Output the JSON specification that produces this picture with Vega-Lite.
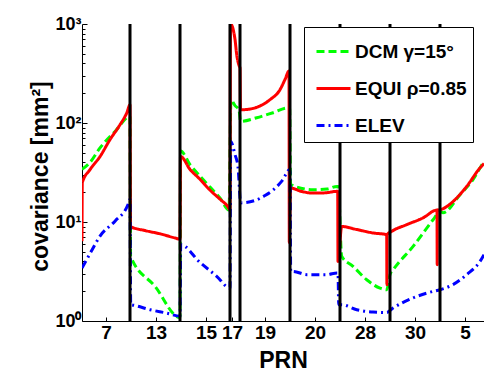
{
  "$schema": "https://vega.github.io/schema/vega-lite/v6.json",
  "width": 402,
  "height": 297,
  "autosize": {"type": "none"},
  "padding": {"left": 82, "top": 24, "right": 0, "bottom": 51},
  "background": "white",
  "config": {"view": {"stroke": null}, "font": "Liberation Sans"},
  "datasets": {
    "series": [
      {"s": "DCM γ=15°", "t": 0, "v": 34}, {"s": "DCM γ=15°", "t": 8, "v": 40}, {"s": "DCM γ=15°", "t": 18, "v": 56}, {"s": "DCM γ=15°", "t": 33, "v": 82}, {"s": "DCM γ=15°", "t": 48, "v": 116},
      {"s": "DCM γ=15°", "t": 48.6, "v": 4.5}, {"s": "DCM γ=15°", "t": 73, "v": 2.24}, {"s": "DCM γ=15°", "t": 98, "v": 1.08},
      {"s": "DCM γ=15°", "t": 98.6, "v": 52}, {"s": "DCM γ=15°", "t": 108, "v": 38}, {"s": "DCM γ=15°", "t": 118, "v": 29}, {"s": "DCM γ=15°", "t": 128, "v": 22.5}, {"s": "DCM γ=15°", "t": 138, "v": 17.5}, {"s": "DCM γ=15°", "t": 147, "v": 13.2},
      {"s": "DCM γ=15°", "t": 149, "v": 170}, {"s": "DCM γ=15°", "t": 153, "v": 150}, {"s": "DCM γ=15°", "t": 157, "v": 135},
      {"s": "DCM γ=15°", "t": 158.6, "v": 104}, {"s": "DCM γ=15°", "t": 174.7, "v": 113}, {"s": "DCM γ=15°", "t": 191, "v": 127}, {"s": "DCM γ=15°", "t": 206, "v": 142}, {"s": "DCM γ=15°", "t": 207.6, "v": 142},
      {"s": "DCM γ=15°", "t": 208.6, "v": 23.9}, {"s": "DCM γ=15°", "t": 231, "v": 21.2}, {"s": "DCM γ=15°", "t": 245, "v": 21.5}, {"s": "DCM γ=15°", "t": 255, "v": 22.9}, {"s": "DCM γ=15°", "t": 256.2, "v": 22.9},
      {"s": "DCM γ=15°", "t": 259.7, "v": 4.5}, {"s": "DCM γ=15°", "t": 271, "v": 3.57}, {"s": "DCM γ=15°", "t": 284.7, "v": 2.61}, {"s": "DCM γ=15°", "t": 298, "v": 2.15}, {"s": "DCM γ=15°", "t": 304.7, "v": 2.07},
      {"s": "DCM γ=15°", "t": 308, "v": 2.94}, {"s": "DCM γ=15°", "t": 311.3, "v": 3.3}, {"s": "DCM γ=15°", "t": 331.3, "v": 5.7}, {"s": "DCM γ=15°", "t": 351.3, "v": 10.6}, {"s": "DCM γ=15°", "t": 358, "v": 12.8},
      {"s": "DCM γ=15°", "t": 361, "v": 12.4}, {"s": "DCM γ=15°", "t": 378, "v": 18.9}, {"s": "DCM γ=15°", "t": 391, "v": 26.8}, {"s": "DCM γ=15°", "t": 401, "v": 39.5}, {"s": "DCM γ=15°", "t": 402, "v": 41},

      {"s": "EQUI ρ=0.85", "t": 0, "v": 6.4}, {"s": "EQUI ρ=0.85", "t": 0.3, "v": 25}, {"s": "EQUI ρ=0.85", "t": 8, "v": 33.8}, {"s": "EQUI ρ=0.85", "t": 18, "v": 45.8}, {"s": "EQUI ρ=0.85", "t": 28, "v": 68}, {"s": "EQUI ρ=0.85", "t": 38, "v": 96}, {"s": "EQUI ρ=0.85", "t": 45, "v": 128}, {"s": "EQUI ρ=0.85", "t": 48, "v": 153},
      {"s": "EQUI ρ=0.85", "t": 48.5, "v": 9.0}, {"s": "EQUI ρ=0.85", "t": 63, "v": 8.2}, {"s": "EQUI ρ=0.85", "t": 78, "v": 7.6}, {"s": "EQUI ρ=0.85", "t": 93, "v": 6.9}, {"s": "EQUI ρ=0.85", "t": 98, "v": 6.7},
      {"s": "EQUI ρ=0.85", "t": 98.5, "v": 46}, {"s": "EQUI ρ=0.85", "t": 108, "v": 34}, {"s": "EQUI ρ=0.85", "t": 118, "v": 27}, {"s": "EQUI ρ=0.85", "t": 128, "v": 21}, {"s": "EQUI ρ=0.85", "t": 138, "v": 17}, {"s": "EQUI ρ=0.85", "t": 146, "v": 14.2}, {"s": "EQUI ρ=0.85", "t": 148, "v": 13.2},
      {"s": "EQUI ρ=0.85", "t": 148.5, "v": 1000}, {"s": "EQUI ρ=0.85", "t": 153, "v": 700}, {"s": "EQUI ρ=0.85", "t": 154.7, "v": 490}, {"s": "EQUI ρ=0.85", "t": 157.3, "v": 375}, {"s": "EQUI ρ=0.85", "t": 158, "v": 360},
      {"s": "EQUI ρ=0.85", "t": 158.5, "v": 136}, {"s": "EQUI ρ=0.85", "t": 165, "v": 137}, {"s": "EQUI ρ=0.85", "t": 174.7, "v": 144}, {"s": "EQUI ρ=0.85", "t": 188, "v": 172}, {"s": "EQUI ρ=0.85", "t": 198, "v": 217}, {"s": "EQUI ρ=0.85", "t": 203, "v": 275}, {"s": "EQUI ρ=0.85", "t": 207, "v": 335},
      {"s": "EQUI ρ=0.85", "t": 207.3, "v": 6.2}, {"s": "EQUI ρ=0.85", "t": 208.5, "v": 22}, {"s": "EQUI ρ=0.85", "t": 220, "v": 20.3}, {"s": "EQUI ρ=0.85", "t": 231, "v": 19.6}, {"s": "EQUI ρ=0.85", "t": 243, "v": 19.7}, {"s": "EQUI ρ=0.85", "t": 255, "v": 20.4}, {"s": "EQUI ρ=0.85", "t": 255.7, "v": 20.4},
      {"s": "EQUI ρ=0.85", "t": 256, "v": 4.0}, {"s": "EQUI ρ=0.85", "t": 259.7, "v": 9.0}, {"s": "EQUI ρ=0.85", "t": 274.7, "v": 8.4}, {"s": "EQUI ρ=0.85", "t": 291, "v": 7.75}, {"s": "EQUI ρ=0.85", "t": 304.7, "v": 7.45},
      {"s": "EQUI ρ=0.85", "t": 304.9, "v": 2.33}, {"s": "EQUI ρ=0.85", "t": 305.1, "v": 7.45}, {"s": "EQUI ρ=0.85", "t": 309.7, "v": 8.05}, {"s": "EQUI ρ=0.85", "t": 324.7, "v": 9.4}, {"s": "EQUI ρ=0.85", "t": 341, "v": 11}, {"s": "EQUI ρ=0.85", "t": 355, "v": 13.2},
      {"s": "EQUI ρ=0.85", "t": 355.2, "v": 3.7}, {"s": "EQUI ρ=0.85", "t": 355.4, "v": 13.2}, {"s": "EQUI ρ=0.85", "t": 358, "v": 13.3}, {"s": "EQUI ρ=0.85", "t": 371.3, "v": 16.2}, {"s": "EQUI ρ=0.85", "t": 384.7, "v": 22.9}, {"s": "EQUI ρ=0.85", "t": 398, "v": 35.2}, {"s": "EQUI ρ=0.85", "t": 402, "v": 39},

      {"s": "ELEV", "t": 0, "v": 3.43}, {"s": "ELEV", "t": 9, "v": 5.0}, {"s": "ELEV", "t": 18, "v": 7.2}, {"s": "ELEV", "t": 33, "v": 10.2}, {"s": "ELEV", "t": 46, "v": 15}, {"s": "ELEV", "t": 48, "v": 17},
      {"s": "ELEV", "t": 48.7, "v": 1.46}, {"s": "ELEV", "t": 52, "v": 1.44}, {"s": "ELEV", "t": 68, "v": 1.3}, {"s": "ELEV", "t": 85, "v": 1.2}, {"s": "ELEV", "t": 98, "v": 1.12},
      {"s": "ELEV", "t": 98.7, "v": 5.9}, {"s": "ELEV", "t": 118, "v": 3.9}, {"s": "ELEV", "t": 134.7, "v": 2.83}, {"s": "ELEV", "t": 148, "v": 2.15},
      {"s": "ELEV", "t": 148.7, "v": 65}, {"s": "ELEV", "t": 153, "v": 48}, {"s": "ELEV", "t": 156, "v": 36},
      {"s": "ELEV", "t": 158.7, "v": 15.6}, {"s": "ELEV", "t": 173, "v": 16.5}, {"s": "ELEV", "t": 183, "v": 18.5}, {"s": "ELEV", "t": 191, "v": 21}, {"s": "ELEV", "t": 200, "v": 26}, {"s": "ELEV", "t": 208, "v": 34},
      {"s": "ELEV", "t": 208.7, "v": 3.17}, {"s": "ELEV", "t": 211, "v": 3.17}, {"s": "ELEV", "t": 225, "v": 2.94}, {"s": "ELEV", "t": 245, "v": 2.94}, {"s": "ELEV", "t": 255, "v": 3.06}, {"s": "ELEV", "t": 256, "v": 3.06},
      {"s": "ELEV", "t": 256.7, "v": 1.46}, {"s": "ELEV", "t": 259.7, "v": 1.46}, {"s": "ELEV", "t": 274.7, "v": 1.3}, {"s": "ELEV", "t": 291, "v": 1.23}, {"s": "ELEV", "t": 304.7, "v": 1.22},
      {"s": "ELEV", "t": 311, "v": 1.35}, {"s": "ELEV", "t": 331, "v": 1.71}, {"s": "ELEV", "t": 351, "v": 1.99}, {"s": "ELEV", "t": 358, "v": 2.07},
      {"s": "ELEV", "t": 371, "v": 2.33}, {"s": "ELEV", "t": 384.7, "v": 2.94}, {"s": "ELEV", "t": 398, "v": 4.0}, {"s": "ELEV", "t": 402, "v": 4.68}
    ],
    "bounds": [{"t": 48}, {"t": 98}, {"t": 148}, {"t": 158}, {"t": 208}, {"t": 258}, {"t": 308}, {"t": 358}]
  },
  "layer": [
    {
      "data": {"name": "series"},
      "mark": {"type": "line", "strokeWidth": 3, "clip": true, "interpolate": "monotone"},
      "encoding": {
        "x": {
          "field": "t", "type": "quantitative",
          "scale": {"domain": [0, 402], "nice": false, "zero": false},
          "axis": {
            "title": "PRN",
            "values": [24, 74, 124, 150, 183, 233, 283, 333, 383],
            "labelExpr": "['7','13','15','17','19','20','28','30','5'][indexof([24,74,124,150,183,233,283,333,383], datum.value)]",
            "labelOverlap": false,
            "grid": false,
            "tickSize": -4,
            "tickColor": "black",
            "domainColor": "black",
            "labelColor": "black",
            "titleColor": "black",
            "labelFont": "Liberation Sans",
            "titleFont": "Liberation Sans",
            "labelFontSize": 19,
            "labelFontWeight": "bold",
            "titleFontSize": 23,
            "titleFontWeight": "bold",
            "labelPadding": 6,
            "titlePadding": 7
          }
        },
        "y": {
          "field": "v", "type": "quantitative",
          "scale": {"type": "log", "domain": [1, 1000]},
          "axis": {
            "title": "covariance [mm²]",
            "titleY": 152,
            "values": [1, 2, 3, 4, 5, 6, 7, 8, 9, 10, 20, 30, 40, 50, 60, 70, 80, 90, 100, 200, 300, 400, 500, 600, 700, 800, 900, 1000],
            "labelExpr": "datum.value == 1 ? '10⁰' : datum.value == 10 ? '10¹' : datum.value == 100 ? '10²' : datum.value == 1000 ? '10³' : ''",
            "labelOverlap": false,
            "grid": false,
            "tickSize": {"condition": {"test": "indexof([1,10,100,1000], datum.value) >= 0", "value": -5}, "value": -3},
            "tickColor": "black",
            "domainColor": "black",
            "labelColor": "black",
            "titleColor": "black",
            "labelFont": "Liberation Sans",
            "titleFont": "Liberation Sans",
            "labelFontSize": 18,
            "labelFontWeight": "bold",
            "titleFontSize": 23,
            "titleFontWeight": "bold",
            "labelPadding": 6,
            "titlePadding": 2
          }
        },
        "color": {
          "field": "s", "type": "nominal",
          "scale": {"domain": ["DCM γ=15°", "EQUI ρ=0.85", "ELEV"], "range": ["#00ff00", "#ff0000", "#0000ff"]},
          "legend": {"title": null, "orient": "none", "legendX": 222, "legendY": 3, "fillColor": "white", "strokeColor": "black", "padding": 6, "symbolType": "stroke", "symbolSize": 1156, "symbolStrokeWidth": 3, "labelFont": "Liberation Sans", "labelFontSize": 19, "labelFontWeight": "bold", "labelColor": "black", "rowPadding": 8, "labelOffset": 3, "symbolOffset": 5}
        },
        "strokeDash": {
          "field": "s", "type": "nominal",
          "scale": {"domain": ["DCM γ=15°", "EQUI ρ=0.85", "ELEV"], "range": [[8, 4], [1, 0], [8, 4, 2, 4]]},
          "legend": {"title": null, "orient": "none", "legendX": 222, "legendY": 3, "fillColor": "white", "strokeColor": "black", "padding": 6, "symbolType": "stroke", "symbolSize": 1156, "symbolStrokeWidth": 3, "labelFont": "Liberation Sans", "labelFontSize": 19, "labelFontWeight": "bold", "labelColor": "black", "rowPadding": 8, "labelOffset": 3, "symbolOffset": 5}
        }
      }
    },
    {
      "data": {"name": "bounds"},
      "mark": {"type": "rule", "color": "black", "strokeWidth": 3},
      "encoding": {"x": {"field": "t", "type": "quantitative"}}
    }
  ]
}
